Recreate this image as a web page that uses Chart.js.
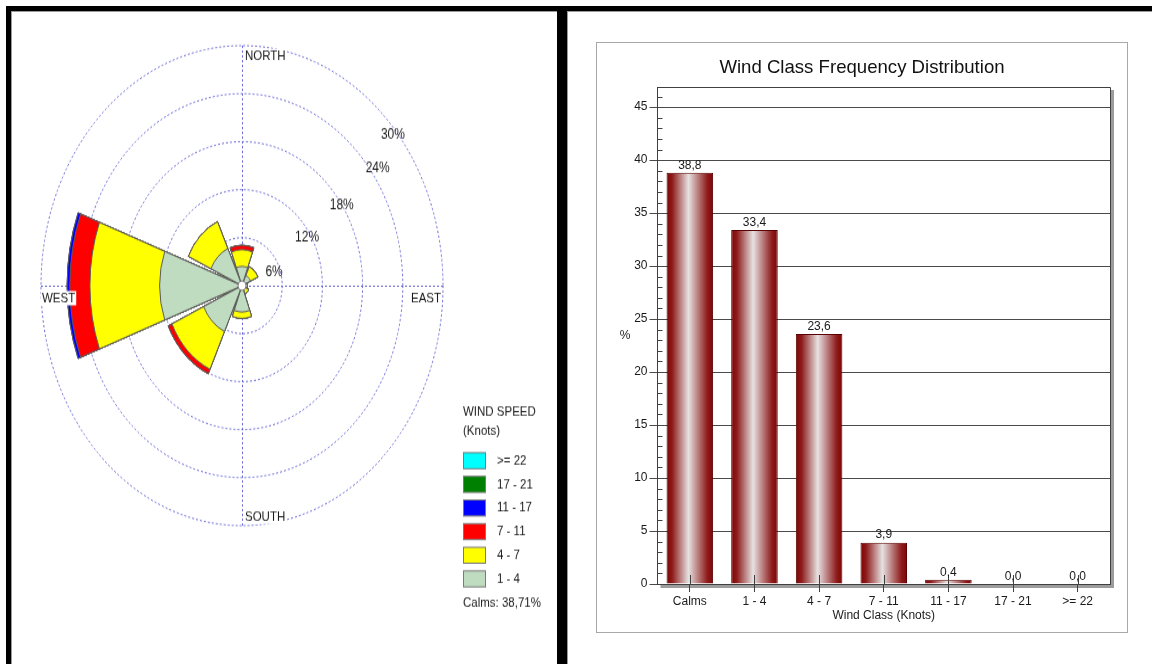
<!DOCTYPE html>
<html>
<head>
<meta charset="utf-8">
<script src="https://cdn.jsdelivr.net/npm/chart.js@4.4.0/dist/chart.umd.min.js"></script>
<style>
html,body{margin:0;padding:0;background:#fff;width:1152px;height:664px;overflow:hidden;position:relative;font-family:'Liberation Sans',Arial,sans-serif;}
#leftFrame{position:absolute;left:6px;top:6px;width:546px;height:700px;border-left:5px solid #000;border-top:5px solid #000;border-right:5px solid #000;box-shadow:inset 1px 1px 0 #9a9a9a;}
#rightFrame{position:absolute;left:562px;top:6px;width:600px;height:700px;border-left:5px solid #000;border-top:5px solid #000;box-shadow:inset 1px 1px 0 #9a9a9a;}
#roseCanvas{position:absolute;left:11px;top:11px;transform-origin:0 0;transform:scaleY(1.19403);}
#barBox{position:absolute;left:596px;top:42px;width:530px;height:589px;border:1px solid #a8a8a8;background:#fff;}
#barCanvas{position:absolute;left:0;top:0;}
</style>
</head>
<body>
<div id="leftFrame"></div>
<div id="rightFrame"></div>
<canvas id="roseCanvas" width="546" height="547" style="width:546px;height:547px"></canvas>
<div id="barBox"><canvas id="barCanvas" width="530" height="589" style="width:530px;height:589px"></canvas></div>
<script>
// ---------- Wind rose data (percent of all observations) ----------
const directions = ['N', 'NE', 'E', 'SE', 'S', 'SW', 'W', 'NW'];
const speedClasses = ['1 - 4', '4 - 7', '7 - 11', '11 - 17', '17 - 21', '>= 22'];
const speedColors = ['#c0dcc0', '#ffff00', '#ff0000', '#0000ff', '#008000', '#00ffff'];
const rose1to4   = [2.4, 1.4, 0.8, 0.6, 3.3, 6.3, 12.3, 5.1];
const rose4to7   = [2.1, 1.2, 0.0, 0.5, 0.8, 5.2, 10.4, 3.7];
const rose7to11  = [0.55, 0.0, 0.0, 0.0, 0.0, 0.6, 3.0, 0.0];
const rose11to17 = [0.0, 0.0, 0.0, 0.0, 0.0, 0.0, 0.4, 0.0];
const rose17to21 = [0.0, 0.0, 0.0, 0.0, 0.0, 0.0, 0.0, 0.0];
const rose22up   = [0.0, 0.0, 0.0, 0.0, 0.0, 0.0, 0.0, 0.0];
const ringTicks = [6, 12, 18, 24, 30];
const ringTickLabels = ['6%', '12%', '18%', '24%', '30%'];
const directionNames = ['NORTH', 'EAST', 'SOUTH', 'WEST'];
const legendTitle = ['WIND SPEED', '(Knots)'];
const calmsText = 'Calms: 38,71%';

// ---------- Frequency distribution data ----------
const windClasses = ['Calms', '1 - 4', '4 - 7', '7 - 11', '11 - 17', '17 - 21', '>= 22'];
const classFrequency = [38.8, 33.4, 23.6, 3.9, 0.4, 0.0, 0.0];
const barTitle = 'Wind Class Frequency Distribution';
const xAxisTitle = 'Wind Class (Knots)';
const yAxisTitle = '%';

Chart.defaults.font.family = "'Liberation Sans', Arial, sans-serif";

// ---------- Rose chart ----------
const roseClasses = [rose1to4, rose4to7, rose7to11, rose11to17, rose17to21, rose22up];
const cumulative = [];
roseClasses.forEach((cls, k) => {
  cumulative.push(cls.map((v, i) => v + (k ? cumulative[k - 1][i] : 0)));
});
const slotLabels = [];
directions.forEach(d => { slotLabels.push(d); slotLabels.push(''); });

const PETAL = 40.8, GAP = 4.2;
const roseDatasets = speedClasses.map((name, k) => ({
  label: name,
  data: cumulative[k].flatMap(v => [v, 0]),
  backgroundColor: speedColors[k],
  borderColor: '#5c5c5c',
  borderWidth: c => (c.dataIndex % 2 === 0 ? 1 : 0),
  angle: c => (c.dataIndex % 2 === 0 ? PETAL : GAP)
}));

const roseDecor = {
  id: 'roseDecor',
  beforeDatasetsDraw(chart) {
    const s = chart.scales.r, ctx = chart.ctx;
    const cx = s.xCenter, cy = s.yCenter, R = s.drawingArea;
    ctx.save();
    ctx.strokeStyle = '#6a6ad6'; ctx.lineWidth = 1; ctx.setLineDash([2, 2]);
    ctx.beginPath();
    ctx.moveTo(cx + 0.5, cy - R); ctx.lineTo(cx + 0.5, cy + R);
    ctx.moveTo(cx - R, cy + 0.5); ctx.lineTo(cx + R, cy + 0.5);
    ctx.stroke();
    ctx.restore();
  },
  afterDatasetsDraw(chart, args, opts) {
    const s = chart.scales.r, ctx = chart.ctx, ca = chart.chartArea;
    const cx = s.xCenter, cy = s.yCenter, R = s.drawingArea;
    ctx.save();
    // calm circle
    ctx.beginPath(); ctx.arc(cx, cy, 4, 0, Math.PI * 2);
    ctx.fillStyle = '#fff'; ctx.fill(); ctx.strokeStyle = '#808080'; ctx.lineWidth = 1; ctx.stroke();

    const font = '11.5px "Liberation Sans", Arial, sans-serif';
    ctx.font = font; ctx.textBaseline = 'middle';
    const label = (txt, x, y, align) => {
      const w = ctx.measureText(txt).width;
      const left = align === 'right' ? x - w : x;
      ctx.fillStyle = '#fff'; ctx.fillRect(left - 1, y - 6, w + 2, 12);
      ctx.fillStyle = '#1a1a1a'; ctx.textAlign = 'left'; ctx.fillText(txt, left, y);
    };
    label(directionNames[0], cx + 3, cy - R + 8.6, 'left');
    label(directionNames[2], cx + 3, cy + R - 7.5, 'left');
    label(directionNames[3], cx - R + 1, cy + 10.5, 'left');
    label(directionNames[1], cx + R - 2, cy + 10.5, 'right');

    // ring labels
    ctx.font = '12px "Liberation Sans", Arial, sans-serif';
    ctx.fillStyle = '#1a1a1a'; ctx.textAlign = 'center';
    ringTicks.forEach((v, i) => {
      const r = s.getDistanceFromCenterForValue(v) * opts.ringFactor[i];
      const a = opts.ringAngle[i] * Math.PI / 180;
      ctx.fillText(ringTickLabels[i], cx + r * Math.cos(a), cy - r * Math.sin(a));
    });

    // legend
    const L = ca.right + 20;
    ctx.font = font; ctx.textAlign = 'left'; ctx.fillStyle = '#1a1a1a';
    ctx.fillText(legendTitle[0], L, ca.bottom - 95.5);
    ctx.fillText(legendTitle[1], L, ca.bottom - 79.5);
    for (let j = 0; j < speedClasses.length; j++) {
      const k = speedClasses.length - 1 - j;
      const yc = ca.bottom - 54.4 + j * 19.8;
      ctx.fillStyle = speedColors[k];
      ctx.fillRect(L, yc - 6.7, 23, 13.4);
      ctx.strokeStyle = '#7a7a7a'; ctx.lineWidth = 1;
      ctx.strokeRect(L + 0.5, yc - 6.7, 22, 13.4);
      ctx.fillStyle = '#1a1a1a';
      ctx.fillText(speedClasses[k], L + 34, yc);
    }
    ctx.fillText(calmsText, L, ca.bottom + 65.3);
    ctx.restore();
  }
};

new Chart(document.getElementById('roseCanvas'), {
  type: 'polarArea',
  data: { labels: slotLabels, datasets: roseDatasets },
  options: {
    responsive: false,
    animation: false,
    events: [],
    layout: { padding: { left: 30, right: 114, top: 29, bottom: 116 } },
    scales: {
      r: {
        min: 0, max: 30,
        startAngle: -PETAL / 2,
        ticks: { display: false, stepSize: 6 },
        grid: { circular: true, color: '#6a6ad6', lineWidth: 1 },
        border: { dash: [2, 2] },
        angleLines: { display: false },
        pointLabels: { display: false }
      }
    },
    plugins: {
      legend: { display: false },
      tooltip: { enabled: false },
      roseDecor: { ringAngle: [20, 31.5, 34.2, 35.8, 40], ringFactor: [0.85, 0.95, 1.0, 1.04, 0.98] }
    }
  },
  plugins: [roseDecor]
});

// ---------- Bar chart ----------
function barGradient(c) {
  const chart = c.chart, xs = chart.scales.x;
  if (!xs || c.type !== 'data' || !xs.width) return '#8b1a1a';
  const x = xs.getPixelForValue(c.dataIndex);
  const half = (xs.width / windClasses.length) * 0.72 / 2;
  const g = chart.ctx.createLinearGradient(x - half, 0, x + half, 0);
  g.addColorStop(0, '#7c0505');
  g.addColorStop(0.12, '#8e1a1a');
  g.addColorStop(0.47, '#e6e2e2');
  g.addColorStop(0.88, '#8e1a1a');
  g.addColorStop(1, '#7c0505');
  return g;
}

const barDecor = {
  id: 'barDecor',
  beforeDraw(chart) {
    const ctx = chart.ctx, ca = chart.chartArea;
    ctx.save();
    ctx.fillStyle = '#9c9c9c';
    ctx.fillRect(ca.right + 1, ca.top + 3, 3, ca.bottom - ca.top + 1);
    ctx.fillRect(ca.left + 3, ca.bottom + 1, ca.right - ca.left + 1, 3);
    ctx.restore();
  },
  afterDatasetsDraw(chart) {
    const ctx = chart.ctx, ca = chart.chartArea, ys = chart.scales.y, xs = chart.scales.x;
    ctx.save();
    // minor ticks inside the y axis
    ctx.strokeStyle = '#404040'; ctx.lineWidth = 1;
    ctx.beginPath();
    for (let v = 1; v < ys.max; v++) {
      if (v % 5 === 0) continue;
      const y = Math.round(ys.getPixelForValue(v)) + 0.5;
      ctx.moveTo(ca.left, y); ctx.lineTo(ca.left + 5, y);
    }
    // inner part of category ticks
    windClasses.forEach((_, i) => {
      const x = Math.round(xs.getPixelForValue(i)) + 0.5;
      ctx.moveTo(x, ca.bottom); ctx.lineTo(x, ca.bottom - 9);
    });
    ctx.stroke();
    // plot frame (top, right)
    ctx.strokeStyle = '#404040';
    ctx.beginPath();
    ctx.moveTo(ca.left, Math.round(ca.top) + 0.5); ctx.lineTo(Math.round(ca.right) + 0.5, Math.round(ca.top) + 0.5);
    ctx.lineTo(Math.round(ca.right) + 0.5, ca.bottom);
    ctx.stroke();
    // value labels
    const meta = chart.getDatasetMeta(0);
    ctx.font = '12px "Liberation Sans", Arial, sans-serif';
    ctx.fillStyle = '#1a1a1a'; ctx.textAlign = 'center'; ctx.textBaseline = 'bottom';
    meta.data.forEach((el, i) => {
      ctx.fillText(classFrequency[i].toFixed(1).replace('.', ','), el.x, el.y - 1.5);
    });
    // y title (horizontal)
    ctx.textBaseline = 'middle';
    ctx.fillText(yAxisTitle, ca.left - 32.5, (ca.top + ca.bottom) / 2);
    ctx.restore();
  }
};

new Chart(document.getElementById('barCanvas'), {
  type: 'bar',
  data: {
    labels: windClasses,
    datasets: [{
      data: classFrequency,
      backgroundColor: barGradient,
      borderColor: '#5a0000',
      borderWidth: 1,
      barPercentage: 0.72,
      categoryPercentage: 1
    }]
  },
  options: {
    responsive: false,
    animation: false,
    events: [],
    layout: { padding: { left: 0, right: 0, top: 0, bottom: 0 } },
    plugins: {
      legend: { display: false },
      tooltip: { enabled: false },
      title: { display: true, text: barTitle, color: '#111', font: { size: 18.6, weight: 'normal' }, padding: { top: 13.5, bottom: 8.2 } }
    },
    scales: {
      x: {
        grid: { display: true, drawOnChartArea: false, offset: false, tickLength: 8, color: '#404040' },
        border: { color: '#404040' },
        ticks: { color: '#1a1a1a', font: { size: 12 }, padding: 2, maxRotation: 0 },
        title: { display: true, text: xAxisTitle, color: '#1a1a1a', font: { size: 12 }, padding: { top: 0, bottom: 8.8 } },
        afterFit(s) { s.height = 48; }
      },
      y: {
        min: 0, max: 46.9,
        ticks: { stepSize: 5, includeBounds: false, color: '#1a1a1a', font: { size: 12 }, padding: 2 },
        grid: { color: '#4a4a4a', tickLength: 8 },
        border: { color: '#404040' },
        afterFit(s) { s.width = 60.5; }
      },
      yRight: {
        position: 'right',
        grid: { display: false, drawTicks: false },
        border: { display: false },
        ticks: { display: false },
        afterFit(s) { s.width = 17; }
      }
    }
  },
  plugins: [barDecor]
});
</script>
</body>
</html>
